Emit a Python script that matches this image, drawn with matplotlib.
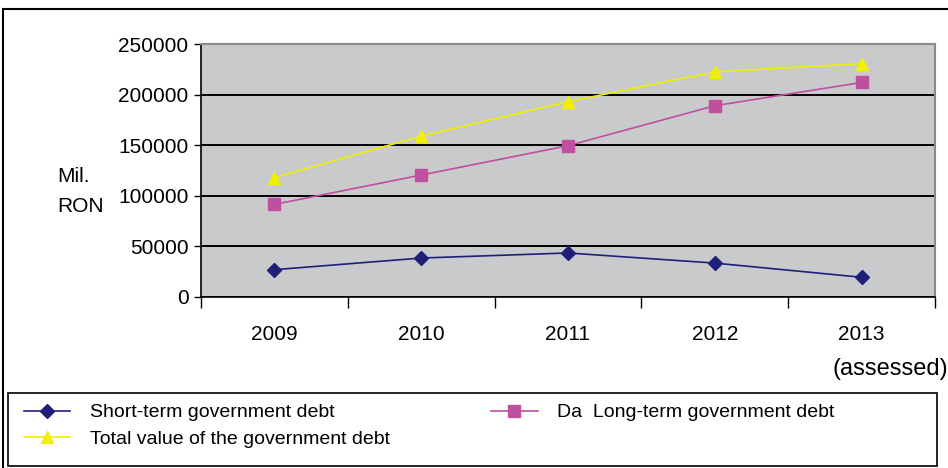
import matplotlib.pyplot as plt
from matplotlib.patches import Rectangle

plt.rcParams['font.family'] = ['Liberation Sans', 'DejaVu Sans']

years = ['2009', '2010', '2011', '2012', '2013']
short_term = [27000, 38500, 43500, 33500, 19500]
long_term = [91500, 120500, 149500, 189000, 212000]
total_debt = [118000, 159000, 193000, 222500, 230500]

W, H = 948, 468
fig = plt.figure(figsize=(W / 100, H / 100), dpi=100)
ax = fig.add_axes([201 / W, 1 - 297 / H, (935 - 201) / W, (297 - 44) / H])
ax.set_facecolor('#c9cacc')

x = list(range(len(years)))
l_short, = ax.plot(x, short_term, color='#1f1f7a', marker='D', markersize=7,
                   linewidth=1.2, label='Short-term government debt')
l_long, = ax.plot(x, long_term, color='#c04fa0', marker='s', markersize=8,
                  linewidth=1.2, label='Da  Long-term government debt')
l_total, = ax.plot(x, total_debt, color='#f0f000', marker='^', markersize=9,
                   linewidth=1.2, label='Total value of the government debt')

ax.set_ylim(0, 250000)
ax.set_yticks(range(0, 250001, 50000))
ax.yaxis.grid(True, color='black', linewidth=1.4)
ax.set_axisbelow(True)
ax.tick_params(axis='y', direction='out', length=5, width=1, labelsize=15, pad=4)

ax.set_xlim(-0.5, len(years) - 0.5)
ax.set_xticks([i - 0.5 for i in range(len(years) + 1)])
ax.set_xticklabels([])
ax.set_xticks(x, minor=True)
ax.set_xticklabels(years, minor=True)
ax.tick_params(axis='x', which='major', direction='out', length=8, width=1)
ax.tick_params(axis='x', which='minor', length=0, labelsize=15, pad=20)

for side in ['top', 'right']:
    ax.spines[side].set_color('#8a8a8a')
    ax.spines[side].set_linewidth(1.5)
for side in ['left', 'bottom']:
    ax.spines[side].set_color('black')
    ax.spines[side].set_linewidth(1.2)

fig.text(57 / W, 1 - 177 / H, 'Mil.', fontsize=15, va='center', ha='left')
fig.text(57 / W, 1 - 207 / H, 'RON', fontsize=15, va='center', ha='left')
fig.text(832 / W, 1 - 369 / H, '(assessed)', fontsize=17, va='center', ha='left')

# outer chart frame
fig.add_artist(Rectangle((3 / W, -0.1), 1.1, 1 - 9 / H + 0.1, transform=fig.transFigure,
                         fill=False, edgecolor='black', linewidth=1.5))
# legend frame
fig.add_artist(Rectangle((8 / W, 1 - 466 / H), (937 - 8) / W, (466 - 393) / H,
                         transform=fig.transFigure, fill=False,
                         edgecolor='black', linewidth=1.2))

leg = fig.legend(handles=[l_short, l_total, l_long], ncol=2, loc='upper left',
                 bbox_to_anchor=(16 / W, 1 - 396 / H),
                 fontsize=14, frameon=False,
                 handlelength=2.4, handletextpad=1.0, borderaxespad=0,
                 labelspacing=0.45, borderpad=0.4, columnspacing=5.2)

fig.savefig('out.png', dpi=100)
